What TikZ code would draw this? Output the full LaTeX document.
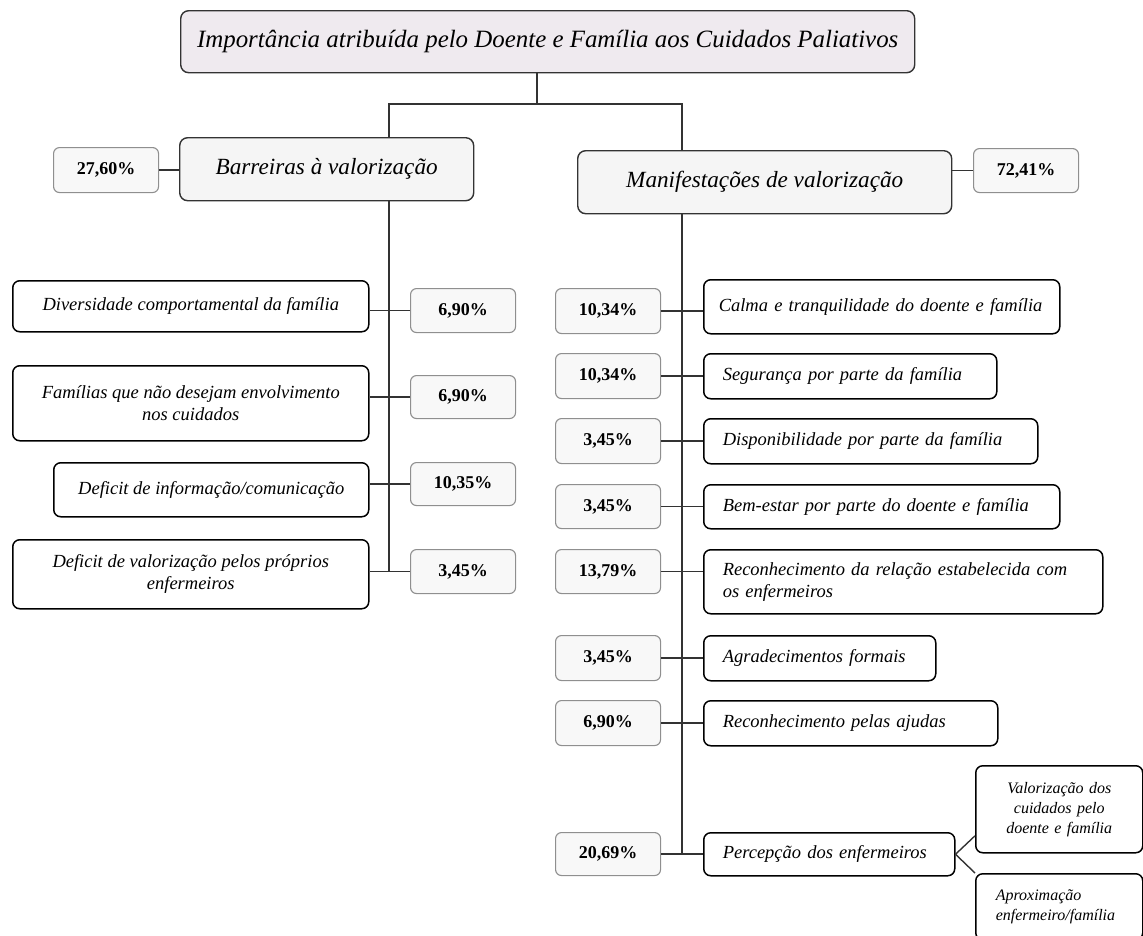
\documentclass[tikz,border=0pt]{standalone}
\usepackage{fontspec}
\setmainfont{Liberation Serif}
\usepackage{xcolor}
\usepackage{tikz}
\usetikzlibrary{calc}
\definecolor{edge}{HTML}{333333}
\definecolor{pctedge}{HTML}{8F8F8F}
\definecolor{topfill}{HTML}{EFEAEF}
\definecolor{catfill}{HTML}{F5F5F5}
\definecolor{pctfill}{HTML}{F8F8F8}
\tikzset{
  link/.style={draw=edge, line width=1.4pt},
  topbox/.style={draw=edge, fill=topfill, line width=1.4pt, rounded corners=8pt, inner sep=0pt, anchor=north west, font=\fontsize{24.9}{28}\selectfont\itshape},
  catbox/.style={draw=edge, fill=catfill, line width=1.4pt, rounded corners=8pt, inner sep=0pt, anchor=north west, font=\fontsize{23.2}{26}\selectfont\itshape},
  pctbox/.style={draw=pctedge, fill=pctfill, line width=1.1pt, rounded corners=6pt, inner sep=0pt, anchor=north west, minimum width=105pt, font=\fontsize{18}{20}\selectfont\bfseries},
  lbox/.style={draw=black, line width=1.5pt, rounded corners=7pt, inner sep=0pt, anchor=north west, align=center, font=\fontsize{18.5}{22}\selectfont\itshape},
  rbox/.style={draw=black, line width=1.5pt, rounded corners=7pt, inner xsep=19pt, inner ysep=0pt, anchor=north west, align=left, font=\fontsize{18.5}{22}\selectfont\itshape},
  subbox/.style={draw=black, line width=1.5pt, rounded corners=7pt, inner xsep=20pt, inner ysep=0pt, anchor=north west, text width=127pt, font=\fontsize{16}{20}\selectfont\itshape}
}

\begin{document}
\begin{tikzpicture}[x=1pt,y=-1pt]
  \useasboundingbox (0,0) rectangle (1143,935);

  % top and the two branches
  \node[topbox, minimum width=734pt, minimum height=62pt] (top) at (180,10) {Importância atribuída pelo Doente e Família aos Cuidados Paliativos};
  \node[catbox, minimum width=294pt, minimum height=63pt] (barr) at (179,137) {Barreiras à valorização};
  \node[catbox, minimum width=374pt, minimum height=63pt] (mani) at (577,150) {Manifestações de valorização};
  \node[pctbox, minimum height=45pt] (p0) at (53,147) {27,60\%};
  \node[pctbox, minimum height=44pt] (q0) at (973,148) {72,41\%};

  \coordinate (split) at (537,104);
  \coordinate (lsplit) at (389,104);
  \coordinate (rsplit) at (682,104);

  % barreiras
  \node[lbox, minimum width=356pt, minimum height=51pt] (l1) at (12,280) {Diversidade comportamental da família};
  \node[lbox, minimum width=356pt, minimum height=75pt] (l2) at (12,365) {Famílias que não desejam envolvimento\\nos cuidados};
  \node[lbox, minimum width=315pt, minimum height=54pt] (l3) at (53,462) {Deficit de informação/comunicação};
  \node[lbox, minimum width=356pt, minimum height=69pt] (l4) at (12,539) {Deficit de valorização pelos próprios\\enfermeiros};
  \node[pctbox, minimum height=44pt] (p1) at (410,288) {6,90\%};
  \node[pctbox, minimum height=43pt] (p2) at (410,375) {6,90\%};
  \node[pctbox, minimum height=43pt] (p3) at (410,462) {10,35\%};
  \node[pctbox, minimum height=44pt] (p4) at (410,549) {3,45\%};

  % manifestacoes
  \node[pctbox, minimum height=45pt] (q1) at (555,288) {10,34\%};
  \node[pctbox, minimum height=45pt] (q2) at (555,353) {10,34\%};
  \node[pctbox, minimum height=45pt] (q3) at (555,418) {3,45\%};
  \node[pctbox, minimum height=44pt] (q4) at (555,484) {3,45\%};
  \node[pctbox, minimum height=44pt] (q5) at (555,549) {13,79\%};
  \node[pctbox, minimum height=45pt] (q6) at (555,635) {3,45\%};
  \node[pctbox, minimum height=45pt] (q7) at (555,700) {6,90\%};
  \node[pctbox, minimum height=43pt] (q8) at (555,832) {20,69\%};
  \node[rbox, inner xsep=15pt, text width=326pt, minimum height=54pt] (r1) at (703,279) {Calma e tranquilidade do doente e família};
  \node[rbox, text width=255pt, minimum height=45pt] (r2) at (703,353) {Segurança por parte da família};
  \node[rbox, text width=296pt, minimum height=45pt] (r3) at (703,418) {Disponibilidade por parte da família};
  \node[rbox, text width=318pt, minimum height=44pt] (r4) at (703,484) {Bem-estar por parte do doente e família};
  \node[rbox, text width=361pt, minimum height=64pt] (r5) at (703,549) {Reconhecimento da relação estabelecida com\\os enfermeiros};
  \node[rbox, text width=194pt, minimum height=45pt] (r6) at (703,635) {Agradecimentos formais};
  \node[rbox, text width=256pt, minimum height=45pt] (r7) at (703,700) {Reconhecimento pelas ajudas};
  \node[rbox, text width=213pt, minimum height=43pt] (r8) at (703,832) {Percepção dos enfermeiros};
  \node[subbox, align=center, minimum height=87pt] (sub1) at (975,765) {Valorização dos\\cuidados pelo\\doente e família};
  \node[subbox, align=left, minimum height=66pt] (sub2) at (975,873) {Aproximação\\enfermeiro/família};

  % connectors
  \draw[link] (top.south -| split) -- (split);
  \draw[link] (lsplit |- barr.north) -- (lsplit) -- (rsplit) -- (rsplit |- mani.north);
  \draw[link] (lsplit |- barr.south) -- (lsplit |- p4.west);
  \draw[link] (rsplit |- mani.south) -- (rsplit |- q8.east);
  \draw[link] (p0.east) -- (p0.east -| barr.west);
  \draw[link] (q0.west) -- (q0.west -| mani.east);
  \foreach \i in {1,...,4}
    \draw[link] (p\i.west) -- (p\i.west -| l\i.east);
  \foreach \i in {1,...,8}
    \draw[link] (q\i.east) -- (q\i.east -| r\i.west);
  \draw[link] (r8.east) -- ($(sub1.south west)!0.2!(sub1.north west)$);
  \draw[link] (r8.east) -- (sub2.north west);
\end{tikzpicture}
\end{document}
